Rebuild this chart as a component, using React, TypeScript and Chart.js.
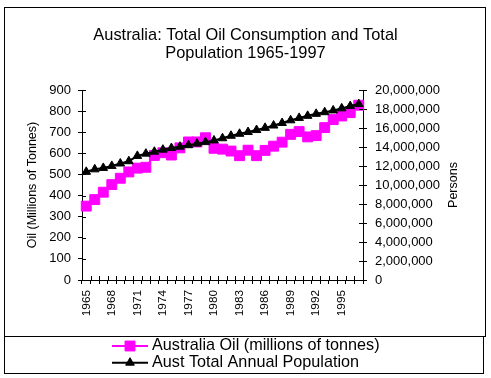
import React, { useEffect, useRef } from 'react';
import { Chart, registerables } from 'chart.js';
import { drawPoint } from 'chart.js/helpers';

Chart.register(...registerables);

const years: string[] = [
  '1965', '1966', '1967', '1968', '1969', '1970', '1971', '1972', '1973', '1974', '1975',
  '1976', '1977', '1978', '1979', '1980', '1981', '1982', '1983', '1984', '1985', '1986',
  '1987', '1988', '1989', '1990', '1991', '1992', '1993', '1994', '1995', '1996', '1997',
];

const oilValues: number[] = [
  350, 381, 416, 452, 482, 512, 530, 534, 590, 603, 592,
  626, 654, 654, 674, 624, 620, 611, 589, 615, 589, 614,
  634, 653, 690, 703, 678, 684, 722, 760, 777, 793, 828,
];

const populationValues: number[] = [
  11388000, 11651000, 11799000, 12009000, 12263000, 12507000, 13067000, 13304000, 13505000, 13723000, 13893000,
  14033000, 14192000, 14359000, 14516000, 14692000, 14923000, 15184000, 15394000, 15579000, 15788000, 16018000,
  16264000, 16532000, 16814000, 17065000, 17284000, 17495000, 17667000, 17855000, 18072000, 18311000, 18524000,
];

const titleLines: string[] = ['Australia: Total Oil Consumption and Total', 'Population 1965-1997'];
const oilLabel = 'Australia Oil (millions of tonnes)';
const popLabel = 'Aust Total Annual Population';
const leftAxisTitle = 'Oil (Millions of Tonnes)';
const rightAxisTitle = 'Persons';

const FONT = "'Liberation Sans', Arial, Helvetica, sans-serif";
const TEXT = '#000000';

const framePlugin = {
  id: 'frames',
  afterDraw(chart: any) {
    const ctx = chart.ctx;
    ctx.save();
    ctx.strokeStyle = '#000';
    ctx.lineWidth = 1;
    ctx.strokeRect(4.5, 7.5, 481, 329);
    ctx.strokeRect(4.5, 336.5, 479, 37);
    ctx.restore();
  },
};

const innerTicksPlugin = {
  id: 'innerTicks',
  afterDraw(chart: any) {
    const ctx = chart.ctx;
    const { x, y, y1 } = chart.scales;
    const area = chart.chartArea;
    ctx.save();
    ctx.strokeStyle = '#000';
    ctx.lineWidth = 1;
    ctx.beginPath();
    y.ticks.forEach((_t: any, i: number) => {
      const p = Math.round(y.getPixelForTick(i)) + 0.5;
      ctx.moveTo(area.left, p);
      ctx.lineTo(area.left + 4, p);
    });
    y1.ticks.forEach((_t: any, i: number) => {
      const p = Math.round(y1.getPixelForTick(i)) + 0.5;
      ctx.moveTo(area.right, p);
      ctx.lineTo(area.right - 4, p);
    });
    for (let i = 0; i <= years.length; i++) {
      const p = Math.round(x.getPixelForValue(i - 0.5)) + 0.5;
      ctx.moveTo(p, area.bottom);
      ctx.lineTo(p, area.bottom - 4);
    }
    ctx.stroke();
    ctx.restore();
  },
};

const rightTitlePlugin = {
  id: 'rightTitle',
  afterDraw(chart: any) {
    const ctx = chart.ctx;
    const area = chart.chartArea;
    ctx.save();
    ctx.translate(454, (area.top + area.bottom) / 2);
    ctx.rotate(-Math.PI / 2);
    ctx.fillStyle = TEXT;
    ctx.font = `12.5px ${FONT}`;
    ctx.textAlign = 'center';
    ctx.textBaseline = 'middle';
    ctx.fillText(rightAxisTitle, 0, 0);
    ctx.restore();
  },
};

const legendPlugin = {
  id: 'boxLegend',
  afterDraw(chart: any) {
    const ctx = chart.ctx;
    const items = [0, 1];
    ctx.save();
    items.forEach((di, row) => {
      const ds = chart.data.datasets[di];
      const cy = 346 + row * 16.7;
      ctx.strokeStyle = ds.borderColor;
      ctx.lineWidth = 2;
      ctx.beginPath();
      ctx.moveTo(112, cy);
      ctx.lineTo(148, cy);
      ctx.stroke();
      ctx.fillStyle = ds.pointBackgroundColor;
      ctx.strokeStyle = ds.pointBorderColor;
      ctx.lineWidth = 1;
      drawPoint(ctx, { pointStyle: ds.pointStyle, radius: ds.pointRadius, rotation: 0, borderWidth: 1 }, 130, cy);
      ctx.fillStyle = TEXT;
      ctx.font = `16.2px ${FONT}`;
      ctx.textAlign = 'left';
      ctx.textBaseline = 'middle';
      ctx.fillText(ds.label, 152, cy);
    });
    ctx.restore();
  },
};

export default function App() {
  const canvasRef = useRef<HTMLCanvasElement | null>(null);

  useEffect(() => {
    const canvas = canvasRef.current;
    if (!canvas) return;
    const chart = new Chart(canvas, {
      type: 'line',
      data: {
        labels: years,
        datasets: [
          {
            label: oilLabel,
            data: oilValues,
            yAxisID: 'y',
            borderColor: '#FF00FF',
            backgroundColor: '#FF00FF',
            pointBackgroundColor: '#FF00FF',
            pointBorderColor: '#FF00FF',
            borderWidth: 2,
            pointStyle: 'rect',
            pointRadius: 7,
            pointBorderWidth: 1,
            tension: 0,
            order: 2,
          },
          {
            label: popLabel,
            data: populationValues,
            yAxisID: 'y1',
            borderColor: '#000000',
            backgroundColor: '#000000',
            pointBackgroundColor: '#000000',
            pointBorderColor: '#000000',
            borderWidth: 2,
            pointStyle: 'triangle',
            pointRadius: 5,
            pointBorderWidth: 1,
            tension: 0,
            order: 1,
          },
        ],
      },
      options: {
        responsive: false,
        animation: false,
        devicePixelRatio: 1,
        layout: { padding: { left: 4, right: 4, top: 0, bottom: 0 } },
        plugins: {
          legend: { display: false },
          tooltip: { enabled: false },
          title: {
            display: true,
            text: titleLines,
            color: TEXT,
            font: { family: FONT, size: 16.4, weight: 'normal', lineHeight: 1.12 },
            padding: { top: 26, bottom: 27.3 },
          },
        },
        scales: {
          x: {
            type: 'category',
            offset: true,
            grid: { offset: true, drawOnChartArea: false, drawTicks: true, tickLength: 4, color: '#000', lineWidth: 1 },
            border: { display: true, color: '#000', width: 1 },
            ticks: {
              autoSkip: false,
              maxRotation: 90,
              minRotation: 90,
              padding: 6,
              color: TEXT,
              font: { family: FONT, size: 11.8 },
              callback: (_v: any, i: number) => (i % 3 === 0 ? years[i] : ''),
            },
            afterFit: (s: any) => {
              s.height = 98;
            },
          },
          y: {
            type: 'linear',
            position: 'left',
            min: 0,
            max: 900,
            grid: { drawOnChartArea: false, drawTicks: true, tickLength: 4, color: '#000', lineWidth: 1 },
            border: { display: true, color: '#000', width: 1 },
            ticks: { stepSize: 100, padding: 7, color: TEXT, font: { family: FONT, size: 13 } },
            title: {
              display: true,
              text: leftAxisTitle,
              color: TEXT,
              font: { family: FONT, size: 12.5 },
              padding: { top: 21.5, bottom: 0 },
            },
            afterFit: (s: any) => {
              s.width = 78;
            },
          },
          y1: {
            type: 'linear',
            position: 'right',
            min: 0,
            max: 20000000,
            grid: { drawOnChartArea: false, drawTicks: true, tickLength: 4, color: '#000', lineWidth: 1 },
            border: { display: true, color: '#000', width: 1 },
            ticks: {
              stepSize: 2000000,
              padding: 8,
              color: TEXT,
              font: { family: FONT, size: 13 },
              callback: (v: any) => Number(v).toLocaleString('en-US'),
            },
            afterFit: (s: any) => {
              s.width = 124;
            },
          },
        },
      },
      plugins: [framePlugin, innerTicksPlugin, rightTitlePlugin, legendPlugin],
    });
    return () => chart.destroy();
  }, []);

  return (
    <div style={{ position: 'fixed', left: 0, top: 0, width: 491, height: 378, background: '#fff' }}>
      <canvas ref={canvasRef} width={491} height={378} style={{ display: 'block', width: 491, height: 378 }} />
    </div>
  );
}
